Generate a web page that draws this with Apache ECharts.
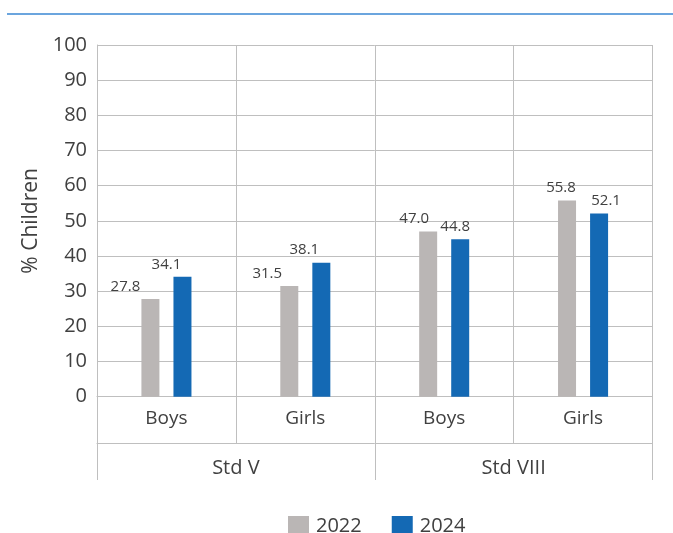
<!DOCTYPE html>
<html>
<head>
<meta charset="utf-8">
<script src="https://cdn.jsdelivr.net/npm/echarts@6/dist/echarts.min.js"></script>
<style>
html,body{margin:0;padding:0;background:#fff;}
#c{width:673px;height:533px;}
</style>
</head>
<body>
<div id="c"></div>
<script>
const categories = ['Boys', 'Girls', 'Boys', 'Girls'];
const groups = ['Std V', 'Std VIII'];
const seriesNames = ['2022', '2024'];
const values2022 = [27.8, 31.5, 47.0, 55.8];
const values2024 = [34.1, 38.1, 44.8, 52.1];
const yTicks = [0, 100, 10];

// label horizontal nudges (style only)
const shift2022 = [-25, -22, -14, -6];
const shift2024 = [-16, -17, -5, 7];

const FONT = '"Open Sans", "Noto Sans", sans-serif';
const TXT = '#404040';
const GRID = '#bfbfbf';

function mk(vals, shifts){
  return vals.map((v,i)=>({value:v, label:{offset:[shifts[i],0]}}));
}

const chart = echarts.init(document.getElementById('c'));
chart.setOption({
  animation:false,
  textStyle:{fontFamily:FONT},
  graphic:[{type:'line', shape:{x1:7,y1:14,x2:673,y2:14}, style:{stroke:'#3a87d3', lineWidth:1.5}}],
  grid:{left:97, right:20.5, top:45, bottom:136.3},
  legend:{
    left:283, top:511, itemWidth:21, itemHeight:20, itemGap:30,
    icon:'rect',
    textStyle:{fontSize:20, color:TXT, fontFamily:FONT, padding:[0,0,0,2]},
    data:seriesNames
  },
  xAxis:[{
    type:'category', data:categories, position:'bottom',
    axisLine:{show:true, lineStyle:{color:GRID, width:1}},
    axisTick:{show:true, length:46.6, lineStyle:{color:GRID}},
    splitLine:{show:true, lineStyle:{color:GRID}},
    axisLabel:{fontSize:19, color:TXT, margin:12, fontFamily:FONT}
  },{
    type:'category', data:groups, position:'bottom', offset:46.6,
    axisLine:{show:true, lineStyle:{color:GRID, width:1}},
    axisTick:{show:true, length:36.7, lineStyle:{color:GRID}},
    axisLabel:{fontSize:20, color:TXT, margin:15, fontFamily:FONT}
  }],
  yAxis:{
    type:'value', min:yTicks[0], max:yTicks[1], interval:yTicks[2],
    name:'% Children', nameLocation:'middle', nameGap:54, nameRotate:90,
    nameTextStyle:{fontSize:21, color:TXT, fontFamily:FONT},
    axisLine:{show:true, lineStyle:{color:GRID}},
    axisTick:{show:false},
    splitLine:{show:true, lineStyle:{color:GRID}},
    axisLabel:{fontSize:20, color:TXT, margin:10, fontFamily:FONT}
  },
  series:[{
    name:seriesNames[0], type:'bar', barWidth:18, barGap:'78%',
    itemStyle:{color:'#bab6b5'},
    label:{show:true, position:'top', distance:5, fontSize:15, color:TXT, fontFamily:FONT, formatter:p=>p.value.toFixed(1)},
    data:mk(values2022, shift2022)
  },{
    name:seriesNames[1], type:'bar', barWidth:18, barGap:'78%',
    itemStyle:{color:'#1469b4'},
    label:{show:true, position:'top', distance:5, fontSize:15, color:TXT, fontFamily:FONT, formatter:p=>p.value.toFixed(1)},
    data:mk(values2024, shift2024)
  }]
});
</script>
</body>
</html>
